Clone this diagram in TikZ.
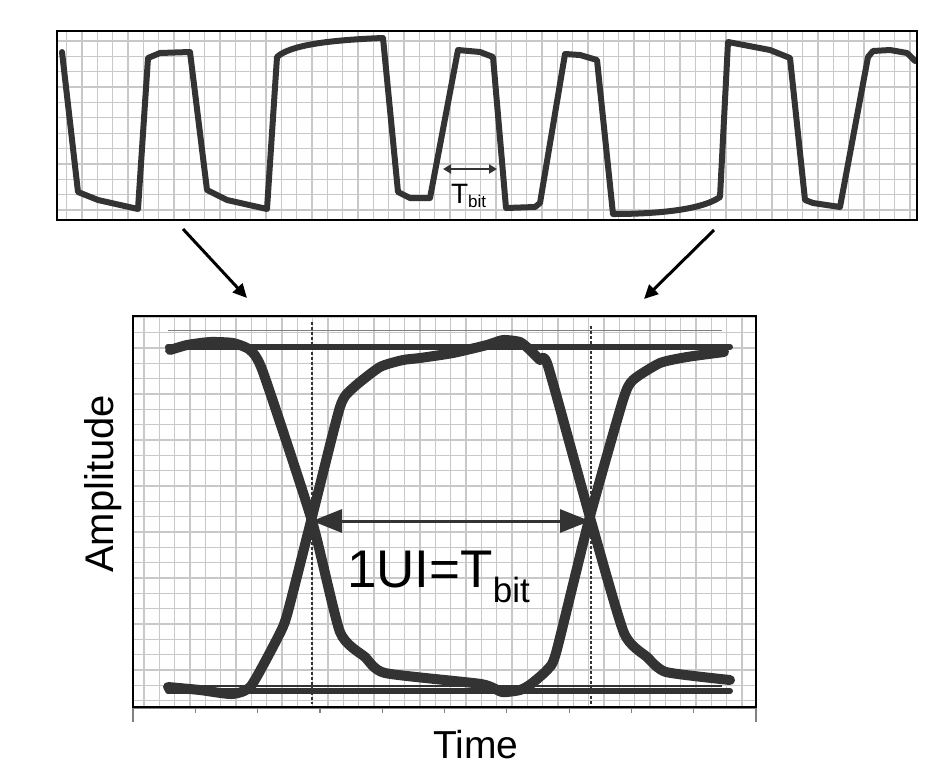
\documentclass[tikz,border=0pt]{standalone}
\usepackage{fontspec}
\setmainfont{Liberation Sans}
\usetikzlibrary{arrows.meta}
\definecolor{ink}{HTML}{333333}
\definecolor{gridc}{HTML}{C8C8C8}
\tikzset{
  gridline/.style={draw=gridc, line width=1.3pt},
  frame/.style={draw=black, line width=2pt},
  wave/.style={draw=ink, line width=6pt, line join=round, line cap=round},
  eyecurve/.style={draw=ink, line width=10pt, line join=round, line cap=round},
  rail/.style={draw=ink, line width=6pt, line cap=round},
  thinrail/.style={draw=gray, line width=1pt},
  bitdash/.style={draw=ink, line width=1.3pt, dash pattern=on 3pt off 2pt},
  zoomarrow/.style={draw=black, line width=3pt, -{Triangle[length=14pt,width=13pt]}},
  uiarrow/.style={draw=ink, line width=3pt, {Triangle[length=30pt,width=23pt]}-{Triangle[length=30pt,width=23pt]}},
  tbarrow/.style={draw=ink, line width=2.2pt, {Triangle[length=8pt,width=9pt]}-{Triangle[length=8pt,width=9pt]}},
  tickc/.style={draw=gray, line width=1.2pt},
  lbl/.style={inner sep=0pt, outer sep=0pt, text=black}
}
\begin{document}
\begin{tikzpicture}[x=1pt,y=-1pt]
\useasboundingbox (0,0) rectangle (952,780);
% ---------- top panel ----------
\begin{scope}
  \clip (57,31) rectangle (917,220);
  \foreach \k in {0,...,55} { \draw[gridline] ({66.7+15.33*\k},31) -- ({66.7+15.33*\k},220); }
  \foreach \k in {0,...,11} { \draw[gridline] (57,{41+15.36*\k}) -- (917,{41+15.36*\k}); }
\end{scope}
\draw[wave] (62,52) -- (78,192) -- (98,200) -- (138,209) -- (148,58) -- (160,53) -- (190,52)
  -- (207,190) -- (227,200) -- (267,209) -- (277,57) .. controls (290,45) and (330,40) .. (383,38)
  -- (398,192) -- (410,198) -- (430,198) -- (458,50) -- (480,52) -- (493,57)
  -- (506,208) -- (535,207) -- (540,203) -- (565,54) -- (580,55) -- (597,60)
  -- (613,214) .. controls (650,214) and (700,211) .. (720,197) -- (728,42) -- (770,50) -- (790,58)
  -- (805,200) -- (813,203) -- (840,207) -- (868,57) -- (873,51) -- (890,50) -- (907,53) -- (915,61);
\draw[frame] (57,31) rectangle (917,220);
\coordinate (tbl) at (443,169);
\coordinate (tbr) at (497,169);
\draw[tbarrow] (tbl) -- (tbr);
\node[lbl, anchor=base west] (tbit) at (451,203) {\fontsize{28}{28}\selectfont T\raisebox{-4pt}{\fontsize{17}{17}\selectfont bit}};
% ---------- zoom arrows ----------
\coordinate (za1) at (183,229);
\coordinate (zb1) at (247,298);
\coordinate (za2) at (714,230);
\coordinate (zb2) at (644,299);
\draw[zoomarrow] (za1) -- (zb1);
\draw[zoomarrow] (za2) -- (zb2);
% ---------- bottom panel ----------
\begin{scope}
  \clip (133,316) rectangle (756,707);
  \foreach \k in {0,...,39} { \draw[gridline] ({144+15.33*\k},316) -- ({144+15.33*\k},707); }
  \foreach \k in {0,...,25} { \draw[gridline] (133,{317.3+15.33*\k}) -- (756,{317.3+15.33*\k}); }
\end{scope}
\draw[thinrail] (168,330) -- (722,330);
\draw[draw=ink, line width=1.2pt] (168,686) -- (722,686);
\coordinate (xl) at (312,521);
\coordinate (xr) at (590,521);
\draw[bitdash] (312,322) -- (312,704);
\draw[bitdash] (591,326) -- (591,704);
\draw[rail] (168,347) -- (730,347);
\draw[rail] (168,691) -- (730,691);
\draw[eyecurve] plot[smooth, tension=0.35] coordinates {(168,687) (200,690) (232,694) (251,686) (278,637) (287,615) (311,521) (340,407) (353,388) (380,367) (403,360) (420,358) (453,353) (487,345) (503,340) (520,342) (530,350) (540,360) (548,366) (591,521) (624,633) (647,657) (666,672) (730,680)};
\draw[eyecurve] plot[smooth, tension=0.35] coordinates {(170,350) (187,345) (210,342) (233,343) (250,350) (263,372) (312,521) (340,632) (365,657) (385,673) (481,684) (502,692) (520,690) (531,684) (547,670) (556,653) (589,520) (623,400) (633,380) (660,363) (687,357) (724,352)};
\draw[uiarrow] (xl) -- (xr);
\node[lbl, anchor=base west] (ui) at (347,587) {\fontsize{53}{53}\selectfont 1UI=T\raisebox{-15pt}{\fontsize{35}{35}\selectfont bit}};
\draw[frame, line width=2.5pt] (133,316) rectangle (756,707);
% axis ticks
\draw[tickc, line width=1pt] (133,708.5) -- (756,708.5);
\foreach \k in {1,...,9} { \draw[tickc] ({133+62.3*\k},708) -- ({133+62.3*\k},713); }
\draw[tickc] (133,708) -- (133,722);
\draw[tickc] (756,708) -- (756,722);
\node[lbl, anchor=base] (time) at (476,758) {\fontsize{39}{39}\selectfont Time};
\node[lbl, anchor=base, rotate=90] (amp) at (113,484) {\fontsize{40}{40}\selectfont Amplitude};
\end{tikzpicture}
\end{document}
